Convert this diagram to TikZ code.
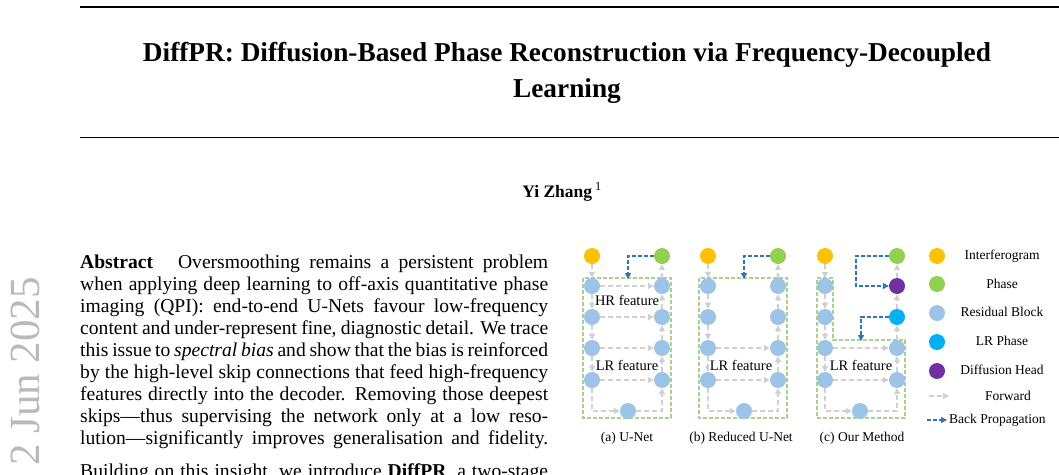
\documentclass[tikz,border=0pt]{standalone}
\usepackage{fontspec}
\setmainfont{Liberation Serif}
\usetikzlibrary{arrows.meta}
\definecolor{cIn}{HTML}{FFC000}
\definecolor{cPh}{HTML}{92D050}
\definecolor{cBlk}{HTML}{9DC3E6}
\definecolor{cLR}{HTML}{00B0F0}
\definecolor{cDif}{HTML}{7030A0}
\definecolor{cFwd}{HTML}{D0D0D0}
\definecolor{cBP}{HTML}{2E75B6}
\definecolor{cBox}{HTML}{A9D18E}
\tikzset{
    dot/.style={circle, inner sep=0, minimum size=16pt, fill=#1},
    fwd/.style={cFwd, line width=1.3pt, dash pattern=on 5pt off 3pt, -{Triangle[length=6pt,width=6pt]}},
    bp/.style={cBP, line width=1.3pt, dash pattern=on 4pt off 2pt, -{Triangle[length=6pt,width=6pt]}},
    box/.style={cBox, line width=1.1pt, dash pattern=on 4pt off 2pt},
    txt/.style={font=\fontsize{13.5}{15}\selectfont},
    lbl/.style={font=\fontsize{14.5}{16}\selectfont, fill=white, inner sep=1pt},
    absline/.style={anchor=base west, inner sep=0, font=\fontsize{19.6}{22}\selectfont}
}
\newcommand{\absl}[1]{\makebox[468pt][s]{#1}}
\begin{document}
\begin{tikzpicture}[x=1pt, y=-1pt]
    \useasboundingbox (0, 0) rectangle (1059, 474);

    % header
    \draw [line width=1.6pt] (80, 7) -- (1059, 7);
    \draw [line width=1pt] (80, 137) -- (1059, 137);
    \node (title1) at (567, 55) {\fontsize{27.3}{30}\selectfont\bfseries DiffPR: Diffusion-Based Phase Reconstruction via Frequency-Decoupled};
    \node (title2) at (567, 91) {\fontsize{27.3}{30}\selectfont\bfseries Learning};
    \node (author) at (562, 192) {\fontsize{17.5}{20}\selectfont\bfseries Yi Zhang\,\textsuperscript{\mdseries 1}};
    \node [rotate=90, anchor=base west, text=gray!55, inner sep=0] (stamp) at (39, 466) {\fontsize{43}{43}\selectfont 2 Jun 2025};

    % abstract
    \node [absline] (l1) at (80, 268) {\absl{\textbf{Abstract}\hspace{0.8em} Oversmoothing remains a persistent problem}};
    \node [absline] (l2) at (80, 290) {\absl{when applying deep learning to off-axis quantitative phase}};
    \node [absline] (l3) at (80, 312) {\absl{imaging (QPI): end-to-end U-Nets favour low-frequency}};
    \node [absline] (l4) at (80, 334) {\absl{content and under-represent fine, diagnostic detail. We trace}};
    \node [absline] (l5) at (80, 356) {\absl{this issue to \textit{spectral bias} and show that the bias is reinforced}};
    \node [absline] (l6) at (80, 378) {\absl{by the high-level skip connections that feed high-frequency}};
    \node [absline] (l7) at (80, 400) {\absl{features directly into the decoder. Removing those deepest}};
    \node [absline] (l8) at (80, 422) {\absl{skips---thus supervising the network only at a low reso-}};
    \node [absline] (l9) at (80, 444) {\absl{lution---significantly improves generalisation and fidelity.}};
    \node [absline] (l10) at (80, 477) {\absl{Building on this insight, we introduce \textbf{DiffPR}, a two-stage}};

    % (a) U-Net
    \draw [box] (583, 278) rectangle (671, 418);
    \node [dot=cIn] (aIn) at (592, 256) {};
    \node [dot=cPh] (aPh) at (662, 256) {};
    \foreach \i/\y in {1/286, 2/317, 3/348, 4/380} {
        \node [dot=cBlk] (aL\i) at (592, \y) {};
        \node [dot=cBlk] (aR\i) at (662, \y) {};
        \draw [fwd] (aL\i) -- (aR\i);
    }
    \node [dot=cBlk] (aB) at (628, 411) {};
    \draw [fwd] (aIn) -- (aL1);
    \draw [fwd] (aL1) -- (aL2);
    \draw [fwd] (aL2) -- (aL3);
    \draw [fwd] (aL3) -- (aL4);
    \draw [fwd] (aL4) |- (aB);
    \draw [fwd] (aB) -| (aR4);
    \draw [fwd] (aR4) -- (aR3);
    \draw [fwd] (aR3) -- (aR2);
    \draw [fwd] (aR2) -- (aR1);
    \draw [fwd] (aR1) -- (aPh);
    \coordinate (aT) at (628, 279);
    \draw [bp] (aPh) -| (aT);
    \node [lbl] at (627, 300) {HR feature};
    \node [lbl] at (627, 365) {LR feature};
    \node [txt] (capA) at (627, 438) {(a) U-Net};

    % (b) Reduced U-Net
    \draw [box] (699, 278) rectangle (787, 418);
    \node [dot=cIn] (bIn) at (708, 256) {};
    \node [dot=cPh] (bPh) at (778, 256) {};
    \foreach \i/\y in {1/286, 2/317, 3/348, 4/380} {
        \node [dot=cBlk] (bL\i) at (708, \y) {};
        \node [dot=cBlk] (bR\i) at (778, \y) {};
    }
    \draw [fwd] (bL3) -- (bR3);
    \draw [fwd] (bL4) -- (bR4);
    \node [dot=cBlk] (bB) at (744, 411) {};
    \draw [fwd] (bIn) -- (bL1);
    \draw [fwd] (bL1) -- (bL2);
    \draw [fwd] (bL2) -- (bL3);
    \draw [fwd] (bL3) -- (bL4);
    \draw [fwd] (bL4) |- (bB);
    \draw [fwd] (bB) -| (bR4);
    \draw [fwd] (bR4) -- (bR3);
    \draw [fwd] (bR3) -- (bR2);
    \draw [fwd] (bR2) -- (bR1);
    \draw [fwd] (bR1) -- (bPh);
    \coordinate (bT) at (744, 279);
    \draw [bp] (bPh) -| (bT);
    \node [lbl] at (741, 365) {LR feature};
    \node [txt] (capB) at (741, 438) {(b) Reduced U-Net};

    % (c) Our Method
    \draw [box] (817, 278) -- (833, 278) -- (833, 340) -- (905, 340) -- (905, 418) -- (817, 418) -- cycle;
    \node [dot=cIn] (cIn) at (825, 256) {};
    \node [dot=cPh] (cPh) at (897, 256) {};
    \node [dot=cDif] (cDif) at (897, 286) {};
    \node [dot=cLR] (cLR) at (897, 317) {};
    \foreach \i/\y in {1/286, 2/317, 3/348, 4/380} {
        \node [dot=cBlk] (cL\i) at (825, \y) {};
    }
    \node [dot=cBlk] (cR3) at (897, 348) {};
    \node [dot=cBlk] (cR4) at (897, 380) {};
    \node [dot=cBlk] (cB) at (860, 411) {};
    \draw [fwd] (cL3) -- (cR3);
    \draw [fwd] (cL4) -- (cR4);
    \draw [fwd] (cIn) -- (cL1);
    \draw [fwd] (cL1) -- (cL2);
    \draw [fwd] (cL2) -- (cL3);
    \draw [fwd] (cL3) -- (cL4);
    \draw [fwd] (cL4) |- (cB);
    \draw [fwd] (cB) -| (cR4);
    \draw [fwd] (cR4) -- (cR3);
    \draw [fwd] (cR3) -- (cLR);
    \draw [fwd] (cLR) -- (cDif);
    \draw [fwd] (cDif) -- (cPh);
    \coordinate (cP1) at (856, 256);
    \coordinate (cP2) at (856, 286);
    \draw [bp] (cPh) -- (cP1) -- (cP2) -- (cDif);
    \coordinate (cT) at (861, 341);
    \draw [bp] (cLR) -| (cT);
    \node [lbl] at (861, 365) {LR feature};
    \node [txt] (capC) at (862, 438) {(c) Our Method};

    % legend
    \node [dot=cIn] (kIn) at (937, 256) {};
    \node [dot=cPh] (kPh) at (937, 284) {};
    \node [dot=cBlk] (kBlk) at (937, 313) {};
    \node [dot=cLR] (kLR) at (937, 342) {};
    \node [dot=cDif] (kDif) at (937, 371) {};
    \node [txt] at (1002, 256) {Interferogram};
    \node [txt] at (1002, 284) {Phase};
    \node [txt] at (1002, 312) {Residual Block};
    \node [txt] at (1002, 341) {LR Phase};
    \node [txt] at (1002, 370) {Diffusion Head};
    \coordinate (kF1) at (929, 396);
    \coordinate (kF2) at (949, 396);
    \draw [fwd] (kF1) -- (kF2);
    \node [txt] at (1008, 396) {Forward};
    \coordinate (kB1) at (927, 420);
    \coordinate (kB2) at (947, 420);
    \draw [bp] (kB1) -- (kB2);
    \node [txt, anchor=west, inner sep=0] at (949, 420) {Back Propagation};
\end{tikzpicture}
\end{document}
